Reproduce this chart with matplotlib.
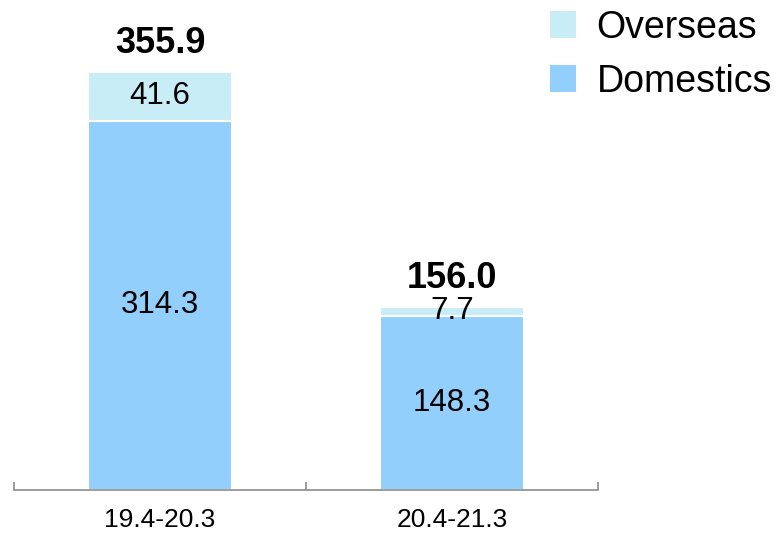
import matplotlib.pyplot as plt
from matplotlib.patches import Patch

plt.rcParams['font.family'] = ['Liberation Sans', 'DejaVu Sans']

# data
periods = ['19.4-20.3', '20.4-21.3']
domestics = [314.3, 148.3]
overseas = [41.6, 7.7]
totals = [355.9, 156.0]

col_dom = '#92cffc'
col_ovs = '#c9edf6'

fig = plt.figure(figsize=(7.74, 5.33), dpi=100)
ax = fig.add_axes([14 / 774, 43 / 533, 584 / 774, 490 / 533])

x = list(range(len(periods)))
w = 0.49
ax.bar(x, domestics, width=w, color=col_dom, edgecolor='white', linewidth=1.5)
ax.bar(x, overseas, width=w, bottom=domestics, color=col_ovs,
       edgecolor='white', linewidth=1.5)

# segment labels + totals
for i in x:
    ax.text(i, domestics[i] / 2, f'{domestics[i]:.1f}', ha='center', va='center',
            fontsize=22.5, color='black')
    ax.text(i, domestics[i] + overseas[i] / 2, f'{overseas[i]:.1f}', ha='center',
            va='center', fontsize=22.5, color='black')
    ax.annotate(f'{totals[i]:.1f}', (i, totals[i]), xytext=(0, 8),
                textcoords='offset points', ha='center', va='bottom',
                fontsize=26, fontweight='bold')

ax.set_xlim(-0.5, 1.5)
ax.set_ylim(0, 417.2)
ax.set_yticks([])
for s in ['left', 'right', 'top']:
    ax.spines[s].set_visible(False)
ax.spines['bottom'].set_color('#8c8c8c')
ax.spines['bottom'].set_linewidth(1.2)

ax.set_xticks(x)
ax.set_xticklabels(periods, fontsize=19)
ax.tick_params(axis='x', which='major', length=0, pad=13)
ax.set_xticks([-0.5, 0.5, 1.5], minor=True)
ax.tick_params(axis='x', which='minor', direction='in', length=6,
               color='#8c8c8c', width=1.2)
ax.patch.set_visible(False)

handles = [Patch(facecolor=col_ovs, edgecolor='none', label='Overseas'),
           Patch(facecolor=col_dom, edgecolor='none', label='Domestics')]
fig.legend(handles=handles, loc='upper left', bbox_to_anchor=(531 / 774, 1.017),
           frameon=False, fontsize=27, handlelength=0.7, handleheight=0.7,
           handletextpad=0.55, labelspacing=0.48, borderaxespad=0.1)

fig.savefig('out.png', dpi=100)
